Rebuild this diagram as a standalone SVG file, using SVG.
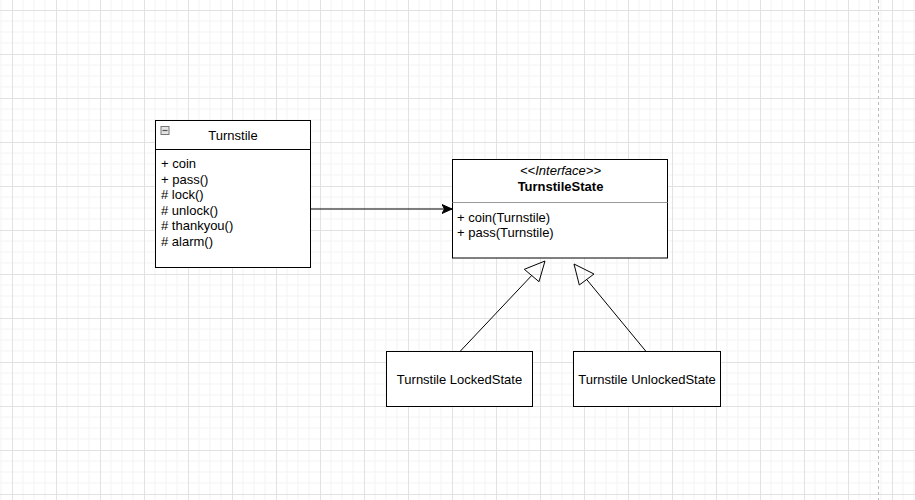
<svg xmlns="http://www.w3.org/2000/svg" width="915" height="500" viewBox="0 0 915 500">
<style>
  text { font-family: "Liberation Sans", Arial, sans-serif; font-size: 13px; fill: #000; }
  .box { fill: #fff; stroke: #000; stroke-width: 1; }
  .edge { fill: none; stroke: #000; stroke-width: 1; }
</style>
<defs>
  <pattern id="grid" patternUnits="userSpaceOnUse" x="12" y="10" width="44" height="44">
    <path d="M11 0V44M22 0V44M33 0V44M0 11H44M0 22H44M0 33H44" stroke="#f3f3f3" stroke-width="1" fill="none"/>
    <path d="M0.5 0V44M0 0.5H44" stroke="#e2e2e2" stroke-width="1" fill="none"/>
  </pattern>
  <marker id="block" markerUnits="userSpaceOnUse" markerWidth="12" markerHeight="10" refX="10" refY="5" orient="auto">
    <path d="M0,0.5 L10,5 L0,9.5 L2.5,5 Z" fill="#000" stroke="#000" stroke-width="1"/>
  </marker>
</defs>
<rect width="915" height="500" fill="#fff"/>
<rect width="915" height="500" fill="url(#grid)"/>
<line x1="878.5" y1="0" x2="878.5" y2="500" stroke="#bbb" stroke-width="1" stroke-dasharray="3,3"/>

<g id="connectors">
  <line class="edge" x1="310" y1="209" x2="452" y2="209" marker-end="url(#block)"/>
  <line class="edge" x1="459.5" y1="352" x2="531.7" y2="275.5"/>
  <polygon class="edge" points="545,261 524.3,269.3 539,281.7"/>
  <line class="edge" x1="646.5" y1="352" x2="586.7" y2="279.5"/>
  <polygon class="edge" points="574,264 579.3,285 594,274"/>
</g>

<g id="turnstile">
  <rect class="box" x="155.5" y="120.5" width="155" height="147" stroke="#222"/>
  <line x1="155.5" y1="149.5" x2="310.5" y2="149.5" stroke="#000"/>
  <rect x="161" y="126.5" width="8" height="8" fill="#e4e4e4" stroke="#777" stroke-width="1"/>
  <line x1="162.5" y1="130.5" x2="167.5" y2="130.5" stroke="#555" stroke-width="1.2"/>
  <text x="233" y="140" text-anchor="middle">Turnstile</text>
  <text x="161" y="168">+ coin</text>
  <text x="161" y="183.5">+ pass()</text>
  <text x="161" y="199">#&#160;lock()</text>
  <text x="161" y="214.5">#&#160;unlock()</text>
  <text x="161" y="230">#&#160;thankyou()</text>
  <text x="161" y="245.5">#&#160;alarm()</text>
</g>

<g id="turnstileState">
  <rect class="box" x="452.5" y="159.5" width="215" height="98.5"/>
  <line x1="452.5" y1="202.5" x2="667.5" y2="202.5" stroke="#999"/>
  <text x="560.5" y="175" text-anchor="middle" font-style="italic">&lt;&lt;Interface&gt;&gt;</text>
  <text x="560.5" y="190.5" text-anchor="middle" font-weight="bold">TurnstileState</text>
  <text x="457" y="221.5">+ coin(Turnstile)</text>
  <text x="457" y="236.5">+ pass(Turnstile)</text>
</g>

<g id="lockedState">
  <rect class="box" x="386.5" y="351.5" width="146" height="55"/>
  <text x="459.5" y="383.5" text-anchor="middle">Turnstile LockedState</text>
</g>

<g id="unlockedState">
  <rect class="box" x="573.5" y="351.5" width="147" height="55"/>
  <text x="647" y="383.5" text-anchor="middle">Turnstile UnlockedState</text>
</g>
</svg>
